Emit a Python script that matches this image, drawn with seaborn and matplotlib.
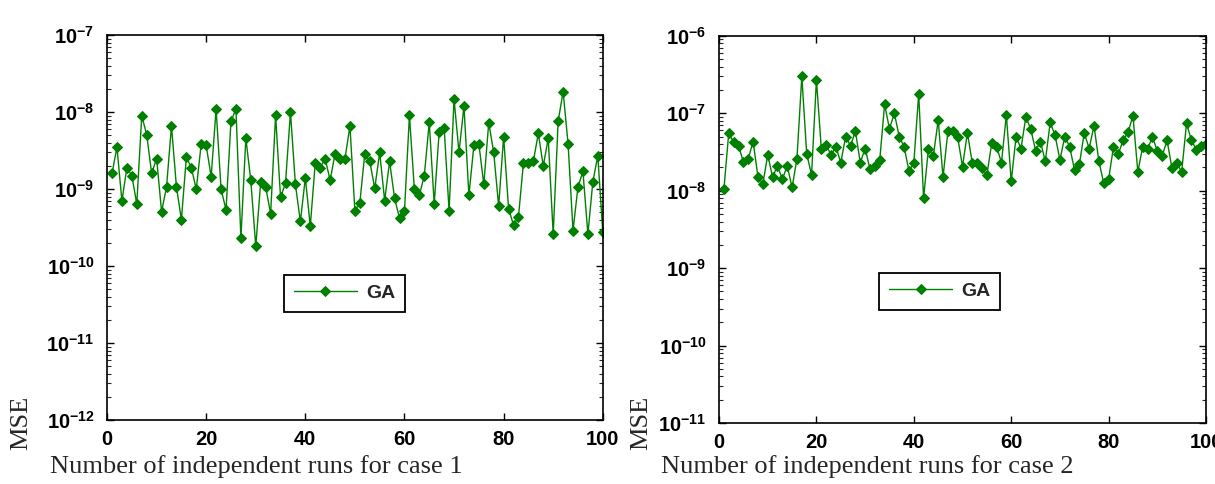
import matplotlib
matplotlib.use("Agg")
import matplotlib.pyplot as plt
import matplotlib.ticker as mticker
import pandas as pd
import seaborn as sns

# independent runs 1..100
runs = list(range(1, 101))

# MSE per run, case 1
mse_case1 = [
    1.6e-9, 3.5e-9, 7.0e-10, 1.9e-9, 1.5e-9, 6.4e-10, 9.0e-9, 5.1e-9, 1.6e-9, 2.5e-9,
    5.1e-10, 1.07e-9, 6.6e-9, 1.07e-9, 4.0e-10, 2.6e-9, 1.9e-9, 1.0e-9, 3.9e-9, 3.7e-9,
    1.45e-9, 1.1e-8, 1.0e-9, 5.4e-10, 7.6e-9, 1.1e-8, 2.3e-10, 4.6e-9, 1.3e-9, 1.8e-10,
    1.25e-9, 1.07e-9, 4.8e-10, 9.1e-9, 7.8e-10, 1.2e-9, 1.0e-8, 1.15e-9, 3.8e-10, 1.4e-9,
    3.3e-10, 2.2e-9, 1.9e-9, 2.5e-9, 1.3e-9, 2.9e-9, 2.5e-9, 2.5e-9, 6.6e-9, 5.2e-10,
    6.7e-10, 2.9e-9, 2.3e-9, 1.02e-9, 3.0e-9, 7.1e-10, 2.3e-9, 7.6e-10, 4.2e-10, 5.2e-10,
    9.1e-9, 9.9e-10, 8.3e-10, 1.5e-9, 7.4e-9, 6.4e-10, 5.6e-9, 6.3e-9, 5.2e-10, 1.48e-8,
    3.0e-9, 1.2e-8, 8.3e-10, 3.7e-9, 3.9e-9, 1.15e-9, 7.3e-9, 3.0e-9, 6.0e-10, 4.8e-9,
    5.6e-10, 3.4e-10, 4.4e-10, 2.2e-9, 2.2e-9, 2.3e-9, 5.3e-9, 2.0e-9, 4.6e-9, 2.6e-10,
    7.6e-9, 1.85e-8, 3.9e-9, 2.9e-10, 1.07e-9, 1.7e-9, 2.6e-10, 1.25e-9, 2.7e-9, 2.8e-10,
]

# MSE per run, case 2
mse_case2 = [
    1.05e-8, 5.6e-8, 4.2e-8, 3.8e-8, 2.35e-8, 2.6e-8, 4.3e-8, 1.5e-8, 1.23e-8, 2.9e-8,
    1.5e-8, 2.1e-8, 1.4e-8, 2.1e-8, 1.1e-8, 2.6e-8, 3.0e-7, 3.0e-8, 1.6e-8, 2.7e-7,
    3.5e-8, 3.9e-8, 2.9e-8, 3.7e-8, 2.3e-8, 5.0e-8, 3.8e-8, 5.9e-8, 2.3e-8, 3.5e-8,
    1.9e-8, 2.1e-8, 2.5e-8, 1.3e-7, 6.3e-8, 1.0e-7, 5.0e-8, 3.7e-8, 1.8e-8, 2.3e-8,
    1.78e-7, 8.0e-9, 3.5e-8, 2.8e-8, 8.1e-8, 1.5e-8, 5.9e-8, 5.9e-8, 4.9e-8, 2.05e-8,
    5.6e-8, 2.3e-8, 2.3e-8, 1.95e-8, 1.6e-8, 4.1e-8, 3.7e-8, 2.3e-8, 9.5e-8, 1.32e-8,
    5.0e-8, 3.5e-8, 8.9e-8, 6.3e-8, 3.3e-8, 4.3e-8, 2.4e-8, 7.6e-8, 5.2e-8, 2.5e-8,
    5.0e-8, 3.7e-8, 1.85e-8, 2.2e-8, 5.6e-8, 3.5e-8, 6.9e-8, 2.4e-8, 1.25e-8, 1.4e-8,
    3.7e-8, 3.0e-8, 4.5e-8, 5.7e-8, 9.3e-8, 1.75e-8, 3.7e-8, 3.5e-8, 4.9e-8, 3.3e-8,
    2.8e-8, 4.5e-8, 1.95e-8, 2.3e-8, 1.75e-8, 7.4e-8, 4.5e-8, 3.4e-8, 3.8e-8, 4.0e-8,
]

x_ticks = [0, 20, 40, 60, 80, 100]

sns.set_style("ticks")
plt.rcParams["font.family"] = ["Liberation Sans", "DejaVu Sans"]
plt.rcParams["mathtext.fontset"] = "custom"
plt.rcParams["mathtext.rm"] = "Liberation Sans:bold"
plt.rcParams["mathtext.bf"] = "Liberation Sans:bold"
plt.rcParams["mathtext.default"] = "bf"

GREEN = "#008000"

fig = plt.figure(figsize=(12.15, 4.84), dpi=100)
ax1 = fig.add_axes([0.0881, 0.1322, 0.408, 0.795])
ax2 = fig.add_axes([0.5918, 0.126, 0.4008, 0.80])

# axes, values, y-range, x label, legend centre, x label anchor, y label anchor
panels = [
    (ax1, mse_case1, (1e-12, 1e-7), "Number of independent runs for case 1",
     (0.479, 0.33), (0.041, 0.012), (0.008, 0.07)),
    (ax2, mse_case2, (1e-11, 1e-6), "Number of independent runs for case 2",
     (0.453, 0.34), (0.544, 0.012), (0.519, 0.07)),
]

for ax, values, ylim, xlabel, legend_pos, xl_pos, yl_pos in panels:
    df = pd.DataFrame({"run": runs, "mse": values})
    sns.lineplot(
        data=df, x="run", y="mse", ax=ax,
        color=GREEN, linewidth=1.0,
        marker="D", markersize=5.2,
        markerfacecolor=GREEN, markeredgecolor=GREEN,
        label="GA",
    )
    ax.set_yscale("log")
    ax.set_xlim(0, 100)
    ax.set_ylim(*ylim)
    ax.set_xticks(x_ticks)
    ax.yaxis.set_major_locator(mticker.LogLocator(base=10, numticks=10))
    ax.yaxis.set_minor_locator(mticker.LogLocator(base=10, subs=range(2, 10), numticks=20))
    ax.yaxis.set_major_formatter(mticker.LogFormatterSciNotation())
    ax.yaxis.set_minor_formatter(mticker.NullFormatter())
    ax.set_xlabel("")
    ax.set_ylabel("")

    ax.tick_params(axis="both", which="major", direction="in", top=True, right=True,
                   length=5, width=1, labelsize=14.5, colors="black")
    ax.tick_params(axis="y", which="minor", direction="in", left=True, right=True,
                   length=3, width=0.8)
    ax.tick_params(axis="x", which="major", pad=7)
    ax.tick_params(axis="y", which="major", pad=9)
    for lbl in ax.get_xticklabels() + ax.get_yticklabels():
        lbl.set_fontweight("bold")
    for side in ax.spines.values():
        side.set_linewidth(1.2)
        side.set_color("black")

    leg = ax.legend(loc="center", bbox_to_anchor=legend_pos, frameon=True,
                    fancybox=False, edgecolor="black", framealpha=1,
                    handlelength=3.25, handletextpad=0.45, borderpad=0.5,
                    prop={"size": 14, "weight": "bold"})
    leg.get_frame().set_linewidth(1.3)

    fig.text(xl_pos[0], xl_pos[1], xlabel, family="Liberation Serif", fontsize=19,
             ha="left", va="bottom")
    fig.text(yl_pos[0], yl_pos[1], "MSE", family="Liberation Serif", fontsize=19,
             rotation=90, ha="left", va="bottom")

fig.savefig("out.png", dpi=100)
plt.close(fig)
